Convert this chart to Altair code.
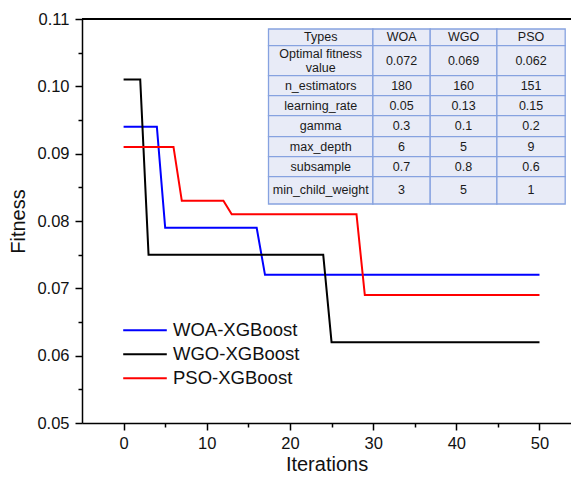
import altair as alt
import pandas as pd

# ---- series (iteration, fitness) breakpoints ----
woa_iter = [0, 4, 5, 16, 17, 50]
woa_fit = [0.094, 0.094, 0.079, 0.079, 0.072, 0.072]
wgo_iter = [0, 2, 3, 24, 25, 50]
wgo_fit = [0.101, 0.101, 0.075, 0.075, 0.062, 0.062]
pso_iter = [0, 6, 7, 12, 13, 28, 29, 50]
pso_fit = [0.091, 0.091, 0.083, 0.083, 0.081, 0.081, 0.069, 0.069]

series_names = ["WOA-XGBoost", "WGO-XGBoost", "PSO-XGBoost"]
series_colors = ["#0000ff", "#000000", "#ff0000"]

# ---- table contents ----
table_header = ["Types", "WOA", "WGO", "PSO"]
row_labels = ["Optimal fitness\nvalue", "n_estimators", "learning_rate", "gamma",
              "max_depth", "subsample", "min_child_weight"]
woa_vals = ["0.072", "180", "0.05", "0.3", "6", "0.7", "3"]
wgo_vals = ["0.069", "160", "0.13", "0.1", "5", "0.8", "5"]
pso_vals = ["0.062", "151", "0.15", "0.2", "9", "0.6", "1"]

x_tick_values = [0, 5, 10, 15, 20, 25, 30, 35, 40, 45, 50]
y_tick_values = [0.05, 0.055, 0.06, 0.065, 0.07, 0.075, 0.08, 0.085, 0.09, 0.095, 0.10, 0.105, 0.11]

# ---- build line data ----
rows = []
for name, its, fits in zip(series_names, [woa_iter, wgo_iter, pso_iter], [woa_fit, wgo_fit, pso_fit]):
    for i, f in zip(its, fits):
        rows.append({"Model": name, "Iterations": i, "Fitness": f})
df = pd.DataFrame(rows)

# ---- layout ----
PLOT_W, PLOT_H = 489, 404
LINE_H = 14.4
tbl_left, tbl_top = 186.5, 10.0
col_widths = [104.4, 57.3, 66.7, 68.3]
row_heights = [16.7, 30.0, 20.0, 20.0, 21.0, 20.0, 20.0, 27.3]

grid = [table_header] + [[row_labels[k], woa_vals[k], wgo_vals[k], pso_vals[k]] for k in range(len(row_labels))]
cells = []
y0 = tbl_top
for r, rh in enumerate(row_heights):
    x0 = tbl_left
    for c, cw in enumerate(col_widths):
        txt = grid[r][c]
        nlines = txt.count("\n") + 1
        cells.append({"x0": x0, "x1": x0 + cw, "y0": y0, "y1": y0 + rh,
                      "xc": x0 + cw / 2, "yc": y0 + rh / 2 - (nlines - 1) * LINE_H / 2,
                      "text": txt})
        x0 += cw
    y0 += rh
cells_df = pd.DataFrame(cells)

FONT = "Liberation Sans"

lines = alt.Chart(df).mark_line(strokeWidth=2, clip=True).encode(
    x=alt.X("Iterations:Q",
            scale=alt.Scale(domain=[-5, -5 + PLOT_W / 8.318], nice=False, zero=False),
            axis=alt.Axis(values=x_tick_values,
                          labelExpr="datum.value % 10 === 0 ? datum.label : ''",
                          tickSize={"condition": {"test": "datum.value % 10 !== 0", "value": 4}, "value": 7},
                          labelPadding=5, titlePadding=3, title="Iterations")),
    y=alt.Y("Fitness:Q",
            scale=alt.Scale(domain=[0.05, 0.11], nice=False, zero=False),
            axis=alt.Axis(values=y_tick_values, format=".2f",
                          labelExpr="round(datum.value * 1000) % 10 === 0 ? datum.label : ''",
                          tickSize={"condition": {"test": "round(datum.value * 1000) % 10 !== 0", "value": 4}, "value": 7},
                          labelPadding=6, titlePadding=8, title="Fitness")),
    color=alt.Color("Model:N",
                    scale=alt.Scale(domain=series_names, range=series_colors),
                    sort=series_names,
                    legend=alt.Legend(title=None, orient="none", legendX=40, legendY=299.5,
                                      symbolType="stroke", symbolSize=1900, symbolStrokeWidth=2,
                                      labelFontSize=18.5, labelFont=FONT, labelColor="#111111",
                                      labelOffset=5, rowPadding=0, clipHeight=23.3, padding=0)),
)

frame_top = alt.Chart(df).mark_rule(color="#000000", strokeWidth=1.5).encode(
    x=alt.value(0), x2=alt.value(PLOT_W), y=alt.value(0)
)

rects = alt.Chart(cells_df).mark_rect(fill="#e8ebf7", stroke="#86a2e0", strokeWidth=1.3).encode(
    x=alt.X("x0:Q", scale=None, axis=None),
    x2="x1:Q",
    y=alt.Y("y0:Q", scale=None, axis=None),
    y2="y1:Q",
)

texts = alt.Chart(cells_df).mark_text(fontSize=12.5, font=FONT, color="#1a1a1a",
                                      lineBreak="\n", lineHeight=LINE_H, baseline="middle").encode(
    x=alt.X("xc:Q", scale=None, axis=None),
    y=alt.Y("yc:Q", scale=None, axis=None),
    text="text:N",
)

chart = alt.layer(lines, frame_top, rects, texts).resolve_scale(
    x="independent", y="independent", color="independent"
).properties(
    width=PLOT_W, height=PLOT_H,
    autosize=alt.AutoSizeParams(type="none"),
    padding={"left": 74, "top": 11, "right": 0, "bottom": 51},
).configure_view(
    stroke=None
).configure_axis(
    domainColor="#000000", domainWidth=1.5, tickColor="#000000", tickWidth=1.5,
    labelFont=FONT, labelFontSize=16.5, labelColor="#111111",
    titleFont=FONT, titleFontSize=20, titleFontWeight="normal", titleColor="#111111",
    grid=False,
)

chart.save("out.html", embed_options={"renderer": "svg", "actions": False})
